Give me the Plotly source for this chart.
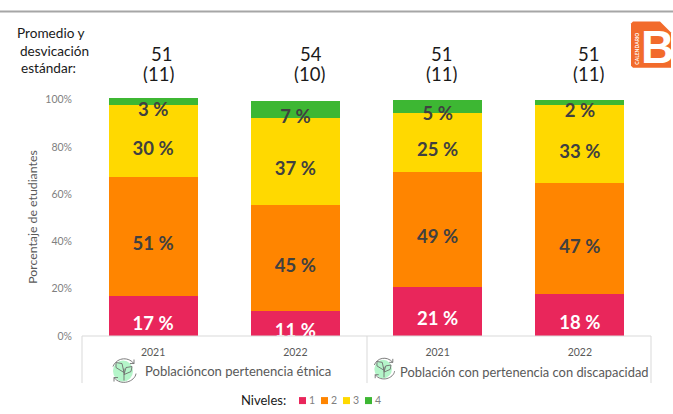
import plotly.graph_objects as go

years = ["2021", "2022", "2021", "2022"]
levels = ["1", "2", "3", "4"]
level_1 = [16.9, 10.6, 20.8, 17.6]
level_2 = [50.6, 44.9, 48.7, 47.0]
level_3 = [30.1, 36.9, 25.0, 33.0]
level_4 = [3.0, 7.2, 5.3, 2.1]
series = [level_1, level_2, level_3, level_4]
colors = ["#E9265B", "#FF8500", "#FFD900", "#3DB733"]
label_colors = ["#FFFFFF", "#404040", "#404040", "#404040"]
means = [51, 54, 51, 51]
stdevs = [11, 10, 11, 11]
groups = ["Poblacióncon pertenencia étnica", "Población con pertenencia con discapacidad"]
yticks = [0, 20, 40, 60, 80, 100]
yticklabels = ["0%", "20%", "40%", "60%", "80%", "100%"]

W, H = 673, 414
L, R, T, B = 82, 651, 95.3, 336
FONT = "Lato"
GREY = "#595959"
mean_x = [161, 311, 441, 588]
stdev_x = [158.5, 309, 441, 588]


def px(x):
    return (x - L) / (R - L)


def py(y):
    return (B - y) / (B - T)


def line(x0, y0, x1, y1, color="#D9D9D9", width=1):
    return dict(type="line", xref="paper", yref="paper", x0=px(x0), y0=py(y0), x1=px(x1), y1=py(y1),
                line=dict(color=color, width=width))


def note(x, y, text, size, color=GREY, anchor="center", angle=0, bold=False, family=FONT, **kw):
    return dict(xref="paper", yref="paper", x=px(x), y=py(y), text=f"<b>{text}</b>" if bold else text,
                showarrow=False, xanchor=anchor, yanchor="middle", textangle=angle,
                font=dict(family=family, size=size, color=color), **kw)


def path(points, close=True):
    return "M " + " L ".join(f"{px(a)},{py(b)}" for a, b in points) + (" Z" if close else "")


def curve(pts):
    (a, b), c1, c2, e = pts
    return f"M {px(a)},{py(b)} C {px(c1[0])},{py(c1[1])} {px(c2[0])},{py(c2[1])} {px(e[0])},{py(e[1])}"


def leaf_icon(cx, cy, r):
    ink = "#6E6E6E"
    k = r / 12.5
    base = dict(type="path", xref="paper", yref="paper", line=dict(color=ink, width=0.9))
    out = [dict(type="circle", xref="paper", yref="paper", x0=px(cx - 11 * k), x1=px(cx + 9 * k),
                y0=py(cy - 10 * k), y1=py(cy + 11 * k), fillcolor="#B4F5C9", line=dict(width=0))]
    out.append(dict(base, path=curve([(cx - 11 * k, cy - 4 * k), (cx - 8 * k, cy - 12 * k), (cx + 3 * k, cy - 15 * k), (cx + 10 * k, cy - 7 * k)])))
    out.append(dict(base, path=curve([(cx + 12 * k, cy + 3 * k), (cx + 11 * k, cy + 11 * k), (cx - 3 * k, cy + 16 * k), (cx - 10 * k, cy + 7 * k)])))
    out.append(dict(base, path=path([(cx + 10 * k, cy - 11 * k), (cx + 10 * k, cy - 7 * k), (cx + 6 * k, cy - 7 * k)], close=False)))
    out.append(dict(base, path=path([(cx - 10 * k, cy + 11 * k), (cx - 10 * k, cy + 7 * k), (cx - 6 * k, cy + 7 * k)], close=False)))
    out.append(dict(base, path=path([(cx, cy + 10 * k), (cx, cy - 2 * k)], close=False)))
    out.append(dict(base, path=path([(cx, cy + 2 * k), (cx - 8 * k, cy - 3 * k), (cx - 8 * k, cy - 8 * k), (cx - 2 * k, cy - 7 * k), (cx, cy + 2 * k)])))
    out.append(dict(base, path=path([(cx, cy + 4 * k), (cx + 2 * k, cy - 3 * k), (cx + 8 * k, cy - 4 * k), (cx + 7 * k, cy + 1 * k), (cx, cy + 4 * k)])))
    return out


x_pos = list(range(len(years)))
fig = go.Figure()
base = [0] * len(years)
for name, vals, color in zip(levels, series, colors):
    fig.add_bar(x=x_pos, y=vals, name=name, marker=dict(color=color, line=dict(width=0)), showlegend=False)

for vals, lab_col in zip(series, label_colors):
    mids = [b + v / 2 for b, v in zip(base, vals)]
    fig.add_scatter(x=x_pos, y=mids, mode="text", text=[f"{round(v)} %" for v in vals], textposition="bottom center",
                    textfont=dict(family=FONT, size=18.5, color=lab_col, weight="bold"),
                    hoverinfo="skip", showlegend=False, cliponaxis=True)
    base = [b + v for b, v in zip(base, vals)]

shapes = [line(0, 12, W, 12, "#A6A6A6", 2), line(L, B, R, B), line(L, B, L, 383), line(367, B, 367, 383), line(R, B, R, 383)]
shapes += [dict(type="path", xref="paper", yref="paper", fillcolor="#F26B2B", line=dict(width=0),
                path=path([(631, 24), (633, 22), (660, 22), (671, 33), (671, 68), (633, 68), (631, 66)]))]
shapes += leaf_icon(124, 370.5, 12.5) + leaf_icon(384, 368.5, 11)

annotations = [
    note(50.5, 33.5, "Promedio y", 13.6, "#1A1A1A"),
    note(54, 51, "desvicación", 13.6, "#1A1A1A"),
    note(48, 68, "estándar:", 13.6, "#1A1A1A"),
    note(33, 217, "Porcentaje de etudiantes", 12.3, GREY, angle=-90),
    note(263.5, 400, "Niveles:", 13, "#1A1A1A"),
    note(657, 47, "<b>B</b>", 46, "#FFFFFF", family="Liberation Sans"),
    note(637, 49, "CALENDARIO", 5, "#FFFFFF", angle=-90, bold=True),
    note(142.5, 371, groups[0], 13.1, GREY, anchor="left"),
    note(397.5, 372, groups[1], 12.9, GREY, anchor="left"),
]
for mx, sx, m, s in zip(mean_x, stdev_x, means, stdevs):
    annotations.append(note(mx, 54.5, str(m), 18.5, "#1A1A1A", height=18))
    annotations.append(note(sx, 74.5, f"({s})", 18.5, "#1A1A1A", height=18))

for i, (name, color) in enumerate(zip(levels, colors)):
    sx = 299 + i * 22
    shapes.append(dict(type="rect", xref="paper", yref="paper", x0=px(sx), x1=px(sx + 7), y0=py(397), y1=py(404),
                       fillcolor=color, line=dict(width=0)))
    annotations.append(note(sx + 8, 399.5, name, 10.5, "#7F7F7F", anchor="left"))

fig.update_layout(
    width=W, height=H, barmode="stack", bargap=0.374, plot_bgcolor="white", paper_bgcolor="white",
    margin=dict(l=L, r=W - R, t=T, b=H - B, pad=0), shapes=shapes, annotations=annotations,
    font=dict(family=FONT),
    xaxis=dict(range=[-0.5, 3.5], tickmode="array", tickvals=x_pos, ticktext=years, ticks="", showgrid=False, zeroline=False,
               showline=False, tickfont=dict(family=FONT, size=10.5, color=GREY), ticklabelstandoff=8),
    yaxis=dict(range=[0, 102], tickmode="array", tickvals=yticks, ticktext=yticklabels, ticks="", showgrid=False, zeroline=False,
               showline=False, tickfont=dict(family=FONT, size=10.5, color="#7F7F7F"), ticklabelstandoff=9),
)
fig.write_html("out.html", config={"displayModeBar": False},
               post_script="document.body.style.margin='0';document.body.style.overflow='hidden';")
